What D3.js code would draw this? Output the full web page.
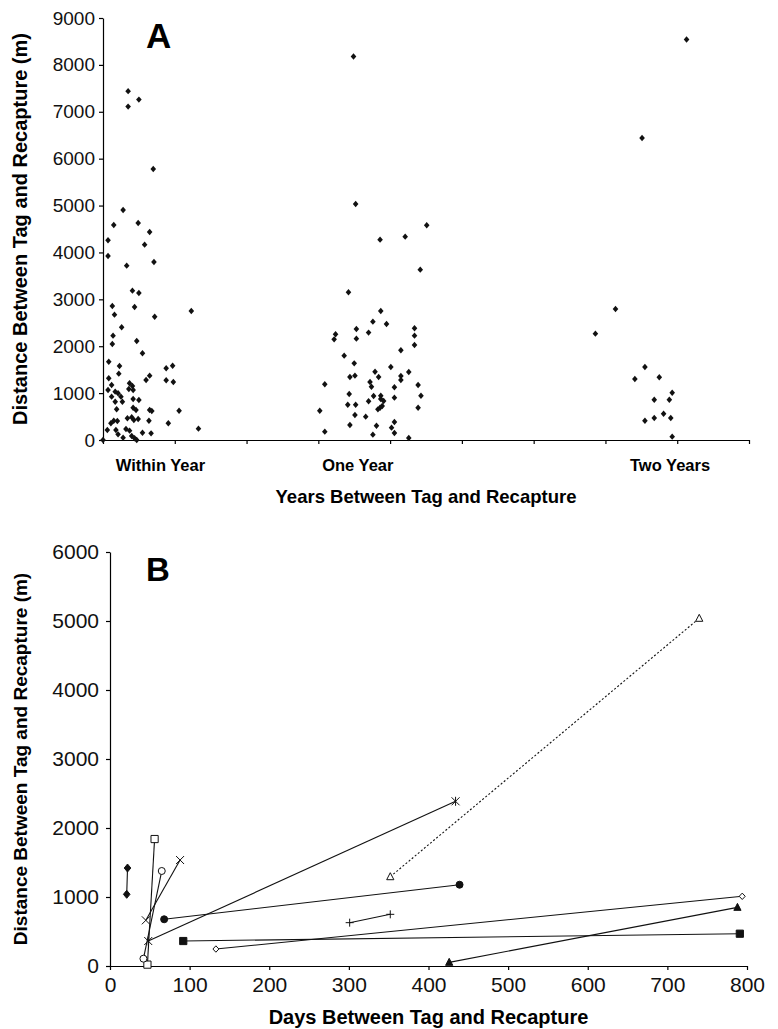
<!DOCTYPE html>
<html>
<head>
<meta charset="utf-8">
<script src="https://cdn.jsdelivr.net/npm/d3@7"></script>
<style>
  body { margin: 0; background: #fff; }
  svg { display: block; font-family: "Liberation Sans", Arial, Helvetica, sans-serif; }
  .axis path, .axis line { stroke: #000; stroke-width: 1.2; }
  .axis text { fill: #111; }
</style>
</head>
<body>
<svg id="chart"></svg>
<script>
const width = 778;
const height = 1029;

// ---- panel A: distance by years between tag and recapture ----
const yearGroups = ['Within Year', 'One Year', 'Two Years'];
const yearGroupPos = [0.8, 3.55, 7.9];

// x is a jitter position on a 0-9 axis, y is distance (m)
const withinYearX = [0.35, 0.35, 0.50, 0.70, 0.28, 0.15, 0.49, 0.65, 0.07, 0.58, 0.07, 0.71, 0.33, 0.41, 0.50,
  0.13, 0.44, 1.23, 0.16, 0.72, 0.26, 0.14, 0.13, 0.47, 0.55, 0.08, 0.23, 0.88, 0.97, 0.22, 0.65, 0.60, 0.88,
  0.98, 0.08, 0.12, 0.37, 0.41, 0.36, 0.42, 0.07, 0.17, 0.21, 0.12, 0.25, 0.27, 0.17, 0.42, 0.50, 0.19, 0.42,
  0.46, 0.65, 0.68, 1.06, 0.34, 0.40, 0.43, 0.49, 0.64, 0.15, 0.20, 0.11, 0.91, 1.33, 0.06, 0.18, 0.21, 0.32,
  0.37, 0.55, 0.67, 0.28, 0.40, 0.44, 0.47, 0.00];
const withinYearDist = [7440, 7110, 7260, 5780, 4905, 4585, 4628, 4437, 4260, 4166, 3925, 3797, 3718, 3185, 3136,
  2858, 2837, 2752, 2673, 2630, 2404, 2225, 2048, 2112, 1849, 1670, 1579, 1529, 1585, 1415, 1372, 1280, 1273,
  1237, 1316, 1173, 1209, 1152, 1088, 1067, 1067, 1031, 996, 924, 924, 817, 817, 875, 853, 655, 689,
  640, 640, 619, 625, 463, 484, 427, 448, 412, 412, 405, 356, 356, 242, 213, 213, 121, 235,
  199, 156, 142, 50, 85, 36, 0, 0];

const oneYearX = [3.49, 3.52, 4.51, 4.21, 3.86, 4.42, 3.42, 3.87, 3.76, 3.95, 4.34, 3.53, 3.70, 3.24, 3.22,
  3.53, 4.34, 4.34, 4.15, 3.36, 3.50, 4.01, 3.79, 4.26, 3.44, 3.51, 3.84, 4.15, 4.15, 3.09, 3.72, 3.74, 4.39,
  4.06, 3.43, 3.77, 3.87, 4.43, 4.06, 3.87, 3.91, 3.70, 3.41, 3.52, 3.89, 3.86, 3.83, 4.39, 3.02, 3.51, 3.66,
  3.44, 3.81, 3.09, 4.06, 4.02, 4.06, 3.76, 4.26];
const oneYearDist = [8178, 5034, 4580, 4337, 4273, 3633, 3150, 2752, 2524, 2475, 2382, 2368, 2290, 2254, 2147,
  2162, 2226, 2026, 1913, 1799, 1635, 1557, 1457, 1451, 1344, 1372, 1344, 1365, 1280, 1188, 1237, 1137, 1173,
  1124, 981, 938, 945, 945, 903, 875, 832, 825, 753, 753, 725, 689, 654, 689, 625, 533, 498,
  320, 305, 178, 384, 263, 149, 114, 43];

const twoYearsX = [8.13, 7.51, 7.14, 6.86, 7.55, 7.41, 7.75, 7.93, 7.68, 7.89, 7.81, 7.68, 7.55, 7.91, 7.93];
const twoYearsDist = [8540, 6442, 2794, 2268, 1557, 1301, 1337, 1009, 860, 860, 561, 469, 412, 469, 71];

// ---- panel B: individual fish recaptured more than once ----
const fishDays = [[21, 22], [47, 56], [42, 65], [45, 88], [48, 434], [68, 439], [92, 791], [133, 794],
  [352, 740], [301, 352], [426, 788]];
const fishDist = [[1039, 1420], [20, 1840], [106, 1377], [662, 1536], [362, 2387], [677, 1178], [362, 468],
  [246, 1010], [1294, 5039], [628, 749], [53, 850]];
const fishSymbols = ['diamondFilled', 'squareOpen', 'circleOpen', 'cross', 'star', 'circleFilled',
  'squareFilled', 'diamondOpen', 'triangleOpen', 'plus', 'triangleFilled'];

const svg = d3.select('#chart')
  .attr('width', width)
  .attr('height', height);

// ===== Panel A =====
const xA = d3.scaleLinear().domain([0, 9]).range([103, 749]);
const yA = d3.scaleLinear().domain([0, 9000]).range([440, 18]);

svg.append('g')
  .classed('axis', true)
  .attr('transform', `translate(${xA(0)},0)`)
  .call(d3.axisLeft(yA).tickValues(d3.range(0, 9001, 1000)).tickFormat(d3.format('d'))
    .tickSize(4).tickSizeOuter(0).tickPadding(4))
  .selectAll('text')
  .style('font-size', '19px');

svg.append('g')
  .classed('axis', true)
  .attr('transform', `translate(0,${yA(0)})`)
  .call(d3.axisBottom(xA).ticks(9).tickSize(4).tickSizeOuter(0).tickFormat(''));

const diamondA = (x, y) => `M${x},${y - 3.2}L${x + 2.8},${y}L${x},${y + 3.2}L${x - 2.8},${y}Z`;

const allA = [
  withinYearX.map((d, i) => [d, withinYearDist[i]]),
  oneYearX.map((d, i) => [d, oneYearDist[i]]),
  twoYearsX.map((d, i) => [d, twoYearsDist[i]])
].flat();

svg.append('g')
  .selectAll('path')
  .data(allA)
  .enter()
  .append('path')
  .attr('d', d => diamondA(xA(d[0]), yA(d[1])))
  .attr('fill', '#111');

svg.append('g')
  .selectAll('text')
  .data(yearGroups)
  .enter()
  .append('text')
  .attr('x', (d, i) => xA(yearGroupPos[i]))
  .attr('y', 471)
  .attr('text-anchor', 'middle')
  .style('font-size', '16.5px')
  .style('font-weight', 'bold')
  .text(d => d);

svg.append('text')
  .attr('x', 426)
  .attr('y', 503)
  .attr('text-anchor', 'middle')
  .style('font-size', '18.5px')
  .style('font-weight', 'bold')
  .text('Years Between Tag and Recapture');

svg.append('text')
  .attr('transform', `translate(27,${(yA(0) + yA(9000)) / 2}) rotate(-90)`)
  .attr('text-anchor', 'middle')
  .style('font-size', '20px')
  .style('font-weight', 'bold')
  .text('Distance Between Tag and Recapture (m)');

svg.append('text')
  .attr('x', 146)
  .attr('y', 48)
  .style('font-size', '35px')
  .style('font-weight', 'bold')
  .text('A');

// ===== Panel B =====
const xB = d3.scaleLinear().domain([0, 800]).range([110, 747]);
const yB = d3.scaleLinear().domain([0, 6000]).range([966, 552]);

svg.append('g')
  .classed('axis', true)
  .attr('transform', `translate(${xB(0)},0)`)
  .call(d3.axisLeft(yB).tickValues(d3.range(0, 6001, 1000)).tickFormat(d3.format('d'))
    .tickSize(4).tickSizeOuter(0).tickPadding(7))
  .selectAll('text')
  .style('font-size', '21px');

svg.append('g')
  .classed('axis', true)
  .attr('transform', `translate(0,${yB(0)})`)
  .call(d3.axisBottom(xB).tickValues(d3.range(0, 801, 100)).tickFormat(d3.format('d'))
    .tickSize(4).tickSizeOuter(0).tickPadding(7))
  .selectAll('text')
  .style('font-size', '21px');

const line = d3.line().x(d => xB(d[0])).y(d => yB(d[1]));

const fish = fishDays.map((days, i) => ({
  points: days.map((d, j) => [d, fishDist[i][j]]),
  symbol: fishSymbols[i]
}));

svg.append('g')
  .selectAll('path')
  .data(fish)
  .enter()
  .append('path')
  .attr('d', d => line(d.points))
  .attr('fill', 'none')
  .attr('stroke', '#111')
  .attr('stroke-width', 1.1)
  .attr('stroke-dasharray', d => d.symbol === 'triangleOpen' ? '2,2' : null);

// marker shapes drawn around (x, y)
function markerPath(type, x, y) {
  switch (type) {
    case 'diamondFilled':
      return `M${x},${y - 4}L${x + 3.3},${y}L${x},${y + 4}L${x - 3.3},${y}Z`;
    case 'diamondOpen':
      return `M${x},${y - 3.2}L${x + 3},${y}L${x},${y + 3.2}L${x - 3},${y}Z`;
    case 'squareOpen':
    case 'squareFilled':
      return `M${x - 3.6},${y - 3.6}h7.2v7.2h-7.2Z`;
    case 'triangleOpen':
    case 'triangleFilled':
      return `M${x},${y - 4}L${x + 3.6},${y + 3}L${x - 3.6},${y + 3}Z`;
    case 'cross':
      return `M${x - 4},${y - 4}L${x + 4},${y + 4}M${x - 4},${y + 4}L${x + 4},${y - 4}`;
    case 'star':
      return `M${x - 4},${y - 4}L${x + 4},${y + 4}M${x - 4},${y + 4}L${x + 4},${y - 4}M${x},${y - 4.5}V${y + 4.5}`;
    case 'plus':
      return `M${x - 4},${y}H${x + 4}M${x},${y - 4}V${y + 4}`;
    default:
      return '';
  }
}

const markerData = fish.flatMap(f => f.points.map(p => ({ p, symbol: f.symbol })));

const markers = svg.append('g');
markers.selectAll('.mk')
  .data(markerData.filter(d => !d.symbol.startsWith('circle')))
  .enter()
  .append('path')
  .classed('mk', true)
  .attr('d', d => markerPath(d.symbol, xB(d.p[0]), yB(d.p[1])))
  .attr('fill', d => d.symbol.endsWith('Filled') ? '#111' : (d.symbol.endsWith('Open') ? '#fff' : 'none'))
  .attr('stroke', '#111')
  .attr('stroke-width', 1);

markers.selectAll('circle')
  .data(markerData.filter(d => d.symbol.startsWith('circle')))
  .enter()
  .append('circle')
  .attr('cx', d => xB(d.p[0]))
  .attr('cy', d => yB(d.p[1]))
  .attr('r', 3.5)
  .attr('fill', d => d.symbol === 'circleFilled' ? '#111' : '#fff')
  .attr('stroke', '#111')
  .attr('stroke-width', 1);

svg.append('text')
  .attr('x', (xB(0) + xB(800)) / 2)
  .attr('y', 1024)
  .attr('text-anchor', 'middle')
  .style('font-size', '20px')
  .style('font-weight', 'bold')
  .text('Days Between Tag and Recapture');

svg.append('text')
  .attr('transform', `translate(27,${(yB(0) + yB(6000)) / 2}) rotate(-90)`)
  .attr('text-anchor', 'middle')
  .style('font-size', '19px')
  .style('font-weight', 'bold')
  .text('Distance Between Tag and Recapture (m)');

svg.append('text')
  .attr('x', 146)
  .attr('y', 581)
  .style('font-size', '33px')
  .style('font-weight', 'bold')
  .text('B');
</script>
</body>
</html>
